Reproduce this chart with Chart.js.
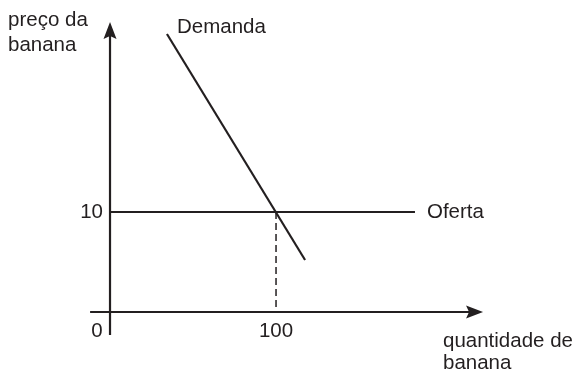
<!DOCTYPE html>
<html lang="pt">
<head>
    <meta charset="UTF-8">
    <title>Oferta e demanda da banana</title>
    <script src="https://cdn.jsdelivr.net/npm/chart.js"></script>
    <style>
        html, body { margin: 0; padding: 0; background: #fff; }
        #wrap { width: 579px; height: 369px; }
    </style>
</head>
<body>
<div id="wrap"><canvas id="bananaChart"></canvas></div>

<script>
    // values (x = quantidade, y = preço)
    const demandaX = [34.3, 117.5];
    const demandaY = [27.8, 5.2];
    const ofertaX = [0, 183.7];
    const ofertaY = [10, 10];
    const equilibrio = { x: 100, y: 10 };

    const xTicks = [0, 100];
    const yTicks = [10];
    const xAxisRange = [-12, 224.7];
    const yAxisRange = [-2.3, 29];

    const ink = '#231f20';
    const font = '20.5px "Liberation Sans", Arial, sans-serif';

    const toPoints = (xs, ys) => xs.map((x, i) => ({ x: x, y: ys[i] }));

    // axes, arrows, labels drawn on top of the scales
    const sketch = {
        id: 'sketch',
        afterDatasetsDraw(chart) {
            const ctx = chart.ctx;
            const sx = chart.scales.x, sy = chart.scales.y;
            const px = v => sx.getPixelForValue(v);
            const py = v => sy.getPixelForValue(v);

            ctx.save();
            ctx.strokeStyle = ink;
            ctx.fillStyle = ink;
            ctx.lineWidth = 2.2;

            // x axis
            ctx.beginPath();
            ctx.moveTo(px(xAxisRange[0]), py(0));
            ctx.lineTo(px(xAxisRange[1]) - 12, py(0));
            ctx.stroke();
            // y axis
            ctx.beginPath();
            ctx.moveTo(px(0), py(yAxisRange[0]));
            ctx.lineTo(px(0), py(yAxisRange[1]) + 12);
            ctx.stroke();

            // arrow heads
            let tx = px(xAxisRange[1]), ty = py(0);
            ctx.beginPath();
            ctx.moveTo(tx, ty);
            ctx.lineTo(tx - 17, ty - 6.5);
            ctx.lineTo(tx - 14, ty);
            ctx.lineTo(tx - 17, ty + 6.5);
            ctx.closePath();
            ctx.fill();

            tx = px(0); ty = py(yAxisRange[1]);
            ctx.beginPath();
            ctx.moveTo(tx, ty);
            ctx.lineTo(tx - 6.5, ty + 17);
            ctx.lineTo(tx, ty + 14);
            ctx.lineTo(tx + 6.5, ty + 17);
            ctx.closePath();
            ctx.fill();

            // text
            ctx.font = font;
            ctx.textBaseline = 'middle';

            ctx.textAlign = 'right';
            yTicks.forEach(v => ctx.fillText(String(v), px(0) - 7, py(v)));

            ctx.textAlign = 'center';
            xTicks.forEach(v => {
                const x = v === 0 ? px(v) - 13 : px(v);
                ctx.fillText(String(v), x, py(0) + 19);
            });

            ctx.textAlign = 'left';
            ctx.fillText('preço da', 8, 20);
            ctx.fillText('banana', 8, 45);
            ctx.fillText('Demanda', px(demandaX[0]) + 10, 27);
            ctx.fillText('Oferta', px(ofertaX[1]) + 12, py(ofertaY[1]));
            ctx.fillText('quantidade de', 443, 341);
            ctx.fillText('banana', 443, 363);

            ctx.restore();
        }
    };

    new Chart(document.getElementById('bananaChart'), {
        type: 'scatter',
        data: {
            datasets: [
                {
                    label: 'Demanda',
                    data: toPoints(demandaX, demandaY),
                    showLine: true,
                    borderColor: ink,
                    borderWidth: 2.2,
                    pointRadius: 0
                },
                {
                    label: 'Oferta',
                    data: toPoints(ofertaX, ofertaY),
                    showLine: true,
                    borderColor: ink,
                    borderWidth: 2.2,
                    pointRadius: 0
                },
                {
                    label: 'equilíbrio',
                    data: [{ x: equilibrio.x, y: equilibrio.y }, { x: equilibrio.x, y: 0 }],
                    showLine: true,
                    borderColor: ink,
                    borderWidth: 1.5,
                    borderDash: [7, 4],
                    pointRadius: 0
                }
            ]
        },
        options: {
            responsive: true,
            maintainAspectRatio: false,
            animation: false,
            layout: { padding: 0 },
            plugins: {
                legend: { display: false },
                tooltip: { enabled: false }
            },
            scales: {
                x: { type: 'linear', display: false, min: -66.27, max: 282.5 },
                y: { type: 'linear', display: false, min: -5.7, max: 31.2 }
            }
        },
        plugins: [sketch]
    });
</script>
</body>
</html>
